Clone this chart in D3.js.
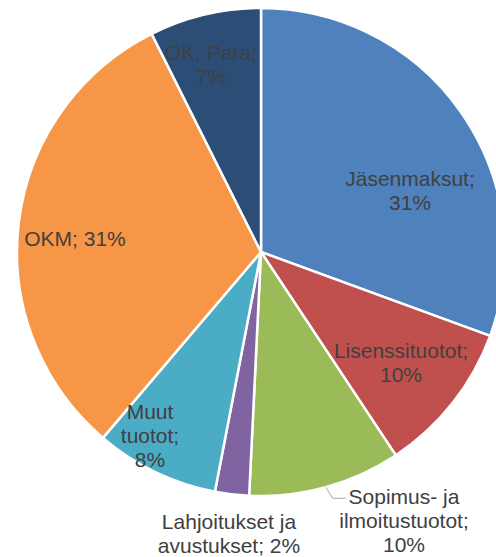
<!DOCTYPE html>
<html>
<head>
<meta charset="utf-8">
<script src="https://cdn.jsdelivr.net/npm/d3@7"></script>
<style>
  body { margin: 0; background: #fff; }
  text { font-family: "Liberation Sans", Arial, sans-serif; font-size: 21px; fill: #404040; }
</style>
</head>
<body>
<div id="chart"></div>
<script>
// income shares (clockwise from 12 o'clock)
const categories = ["Jäsenmaksut", "Lisenssituotot", "Sopimus- ja ilmoitustuotot",
  "Lahjoitukset ja avustukset", "Muut tuotot", "OKM", "OK, Para"];
const values = [30.6, 10.1, 10.1, 2.25, 8.2, 31.4, 7.4];
const colors = ["#4F81BD", "#C0504D", "#9BBB59", "#8064A2", "#4BACC6", "#F79646", "#2C4D75"];

// how each label wraps, and where it sits (x centre, first baseline)
const labelLines = [
  ["Jäsenmaksut;", "{p}"],
  ["Lisenssituotot;", "{p}"],
  ["Sopimus- ja", "ilmoitustuotot;", "{p}"],
  ["Lahjoitukset ja", "avustukset; {p}"],
  ["Muut", "tuotot;", "{p}"],
  ["OKM; {p}"],
  ["OK, Para;", "{p}"]
];
const labelPos = [[410, 186], [401, 358], [404, 504], [229, 529], [150, 419], [75, 246], [211, 60]];

const width = 496, height = 557,
    cx = 261, cy = 252, radius = 244;

const svg = d3.select("#chart")
    .append("svg")
    .attr("width", width)
    .attr("height", height);

const total = d3.sum(values);
const pie = d3.pie().sort(null).value(d => d)(values);
const arc = d3.arc().innerRadius(0).outerRadius(radius);

const g = svg.append("g").attr("transform", `translate(${cx},${cy})`);

g.selectAll("path")
    .data(pie)
    .join("path")
    .attr("d", arc)
    .attr("fill", (d, i) => colors[i])
    .attr("stroke", "#fff")
    .attr("stroke-width", 2.5)
    .attr("stroke-linejoin", "round");

// leader line for the label that sits outside the pie
const rim = d3.arc().innerRadius(radius).outerRadius(radius);
const p0 = rim.centroid(pie[2]);
const x0 = cx + p0[0], y0 = cy + p0[1];
svg.append("path")
    .attr("d", `M${x0},${y0}L${x0 + 7},${y0 + 11}L${x0 + 20},${y0 + 11}`)
    .attr("fill", "none")
    .attr("stroke", "#A6A6A6")
    .attr("stroke-width", 1);

const lineH = 24;
svg.selectAll("text.label")
    .data(pie)
    .join("text")
    .attr("class", "label")
    .attr("text-anchor", "middle")
    .each(function(d, i) {
        const pct = Math.round(d.value / total * 100) + "%";
        d3.select(this).selectAll("tspan")
            .data(labelLines[i])
            .join("tspan")
            .attr("x", labelPos[i][0])
            .attr("y", (t, j) => labelPos[i][1] + j * lineH)
            .text(t => t.replace("{p}", pct));
    });
</script>
</body>
</html>
